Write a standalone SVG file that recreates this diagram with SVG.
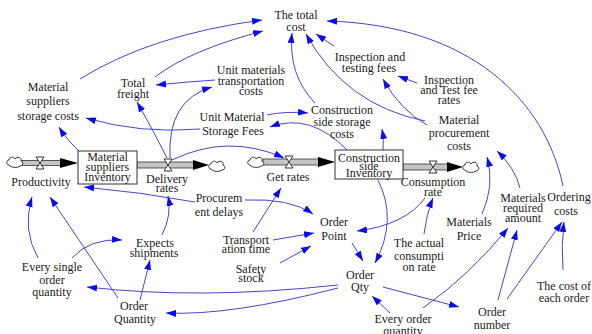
<svg xmlns="http://www.w3.org/2000/svg" width="592" height="334" viewBox="0 0 592 334" font-family="'Liberation Serif', 'DejaVu Serif', serif">
<defs>
<marker id="ah" markerWidth="10" markerHeight="8" refX="10" refY="3.5" orient="auto" markerUnits="userSpaceOnUse"><path d="M0,0 L10,3.5 L0,7 Z" fill="#0a0aee"/></marker>
<path id="cloud" d="M-6,3 C-9,3 -9,-2 -6,-2 C-6,-5 -1,-6 0,-3 C2,-6 7,-5 6,-1 C9,0 8,4 5,4 C3,6 -4,6 -6,3 Z"/>
<path id="valve" d="M-4,-6 L4,-6 L-4,6 L4,6 Z"/>
</defs>
<style>
text{font-family:'Liberation Serif','DejaVu Serif',serif;font-size:12px;fill:#1a1a1a;text-anchor:middle}
.c{fill:none;stroke:#4646c8;stroke-width:1;marker-end:url(#ah)}
.pipe{fill:#c4c4c4;stroke:#333;stroke-width:0.8}
.box{fill:#fff;stroke:#333;stroke-width:1}
.valve{fill:#fff;stroke:#333;stroke-width:1}
.cloud{fill:#fff;stroke:#333;stroke-width:1}
.head{fill:#000}
</style>
<rect width="592" height="334" fill="#fff"/>
<g id="connectors">
<path class="c" d="M80,79 Q150,35 262,20"/>
<path class="c" d="M155,77 Q190,50 263,31"/>
<path class="c" d="M215,80 Q185,82 156,85"/>
<path class="c" d="M167,158 Q152,128 137,102"/>
<path class="c" d="M170,158 Q167,100 212,87"/>
<path class="c" d="M200,129 Q140,134 86,118"/>
<path class="c" d="M79,151 Q68,142 59,127"/>
<path class="c" d="M267,115 Q285,111 308,113"/>
<path class="c" d="M347,150 Q310,112 270,127"/>
<path class="c" d="M383,150 Q384,140 382,129"/>
<path class="c" d="M315,103 Q288,75 292,33"/>
<path class="c" d="M425,121 Q345,105 306,34"/>
<path class="c" d="M427,125 Q400,110 383,79"/>
<path class="c" d="M417,83 L398,76"/>
<path class="c" d="M334,46 L316,34"/>
<path class="c" d="M563,186 C545,100 470,25 327,21"/>
<path class="c" d="M482,214 Q495,185 487,157"/>
<path class="c" d="M520,188 Q515,168 497,151"/>
<path class="c" d="M424,234 Q426,215 433,198"/>
<path class="c" d="M425,198 Q405,225 357,231"/>
<path class="c" d="M378,180 Q398,220 375,263"/>
<path class="c" d="M352,243 L363,261"/>
<path class="c" d="M245,200 Q290,198 313,214"/>
<path class="c" d="M273,240 L314,233"/>
<path class="c" d="M280,263 L311,246"/>
<path class="c" d="M253,232 L281,188"/>
<path class="c" d="M172,160 Q228,133 284,158"/>
<path class="c" d="M338,285 Q200,300 87,287"/>
<path class="c" d="M338,288 Q230,316 166,313"/>
<path class="c" d="M383,287 L459,307"/>
<path class="c" d="M390,313 L372,296"/>
<path class="c" d="M423,308 Q470,275 508,228"/>
<path class="c" d="M498,300 L517,230"/>
<path class="c" d="M507,299 L562,222"/>
<path class="c" d="M563,270 Q561,245 564,222"/>
<path class="c" d="M38,258 Q22,230 32,197"/>
<path class="c" d="M118,298 L50,197"/>
<path class="c" d="M72,258 Q90,238 122,240"/>
<path class="c" d="M140,300 L150,260"/>
<path class="c" d="M162,235 Q172,215 168,196"/>
<path class="c" d="M195,202 Q140,192 84,187"/>
</g>
<g id="flows">
<rect class="pipe" x="22" y="160.5" width="40" height="5"/>
<path class="head" d="M60,158 L78,163 L60,168 Z"/>
<rect class="pipe" x="137" y="162" width="58" height="6"/>
<path class="head" d="M193,160 L209,165 L193,170 Z"/>
<rect class="pipe" x="263" y="159" width="57" height="6"/>
<path class="head" d="M318,157 L335,162 L318,167 Z"/>
<rect class="pipe" x="403" y="164" width="46" height="6"/>
<path class="head" d="M447,162 L463,167 L447,172 Z"/>
<use href="#cloud" class="cloud" x="15" y="162"/>
<use href="#cloud" class="cloud" x="217" y="166"/>
<use href="#cloud" class="cloud" x="256" y="162"/>
<use href="#cloud" class="cloud" x="471" y="167"/>
<use href="#valve" class="valve" x="40" y="163"/>
<use href="#valve" class="valve" x="168" y="165"/>
<use href="#valve" class="valve" x="289" y="162"/>
<use href="#valve" class="valve" x="433" y="167"/>
</g>
<g id="msi"><rect class="box" x="78" y="151" width="59" height="33"/><text x="107.5" y="161">Material</text><text x="107.5" y="171">suppliers</text><text x="107.5" y="181">Inventory</text></g>
<g id="csi"><rect class="box" x="335" y="150" width="68" height="29"/><text x="369" y="162">Construction</text><text x="369" y="169.5">side</text><text x="369" y="177">Inventory</text></g>
<g id="total"><text x="296" y="19">The total</text><text x="296" y="31">cost</text></g>
<g id="mssc"><text x="48" y="91">Material</text><text x="48" y="105">suppliers</text><text x="48" y="120">storage costs</text></g>
<g id="freight"><text x="133" y="87">Total</text><text x="133" y="98">freight</text></g>
<g id="umtc"><text x="251" y="74">Unit materials</text><text x="251" y="85">transportation</text><text x="251" y="95">costs</text></g>
<g id="umsf"><text x="232" y="121">Unit Material</text><text x="233" y="135">Storage Fees</text></g>
<g id="cssc"><text x="342" y="114">Construction</text><text x="342" y="126">side storage</text><text x="342" y="138">costs</text></g>
<g id="itf"><text x="370" y="61">Inspection and</text><text x="369" y="72">testing fees</text></g>
<g id="itfr"><text x="449" y="84">Inspection</text><text x="449" y="94">and Test fee</text><text x="449" y="104">rates</text></g>
<g id="mpc"><text x="459" y="124">Material</text><text x="459" y="137">procurement</text><text x="459" y="150">costs</text></g>
<g id="prod"><text x="41" y="186">Productivity</text></g>
<g id="deliv"><text x="167" y="183">Delivery</text><text x="167" y="192">rates</text></g>
<g id="getr"><text x="288" y="181">Get rates</text></g>
<g id="cons"><text x="433" y="186">Consumption</text><text x="433" y="196">rate</text></g>
<g id="procd"><text x="219" y="202">Procurem</text><text x="219" y="216">ent delays</text></g>
<g id="opoint"><text x="334" y="226">Order</text><text x="334" y="240">Point</text></g>
<g id="trans"><text x="246" y="244">Transport</text><text x="246" y="253">ation time</text></g>
<g id="safety"><text x="251" y="273">Safety</text><text x="251" y="282">stock</text></g>
<g id="oqty"><text x="360" y="279">Order</text><text x="360" y="291">Qty</text></g>
<g id="expects"><text x="155" y="247">Expects</text><text x="154" y="257">shipments</text></g>
<g id="esoq"><text x="52" y="271">Every single</text><text x="52" y="284">order</text><text x="52" y="296">quantity</text></g>
<g id="oquant"><text x="134" y="310">Order</text><text x="135" y="323">Quantity</text></g>
<g id="actual"><text x="419" y="247">The actual</text><text x="419" y="260">consumpti</text><text x="419" y="271">on rate</text></g>
<g id="mprice"><text x="469" y="226">Materials</text><text x="469" y="240">Price</text></g>
<g id="mra"><text x="523" y="202">Materials</text><text x="523" y="212">required</text><text x="523" y="222">amount</text></g>
<g id="ordc"><text x="569" y="201">Ordering</text><text x="566" y="215">costs</text></g>
<g id="costeach"><text x="564" y="290">The cost of</text><text x="564" y="302">each order</text></g>
<g id="onum"><text x="492" y="316">Order</text><text x="492" y="329">number</text></g>
<g id="eoq"><text x="403" y="323">Every order</text><text x="403" y="335">quantity</text></g>
</svg>
